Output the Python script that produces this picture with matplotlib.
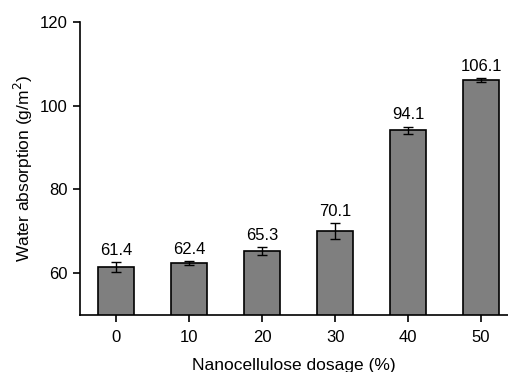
import matplotlib.pyplot as plt

plt.rcParams['font.family'] = ['Liberation Sans', 'DejaVu Sans']

# données
dosage = [0, 10, 20, 30, 40, 50]
absorption = [61.4, 62.4, 65.3, 70.1, 94.1, 106.1]
erreurs = [1.2, 0.4, 0.9, 1.9, 0.9, 0.5]
etiquettes = ["61.4", "62.4", "65.3", "70.1", "94.1", "106.1"]

fig = plt.figure(figsize=(5.08, 3.72), dpi=100)
ax = fig.add_axes([0.157, 0.153, 0.843, 0.788])

ax.bar(dosage, absorption, width=5, color="#7f7f7f", edgecolor="black", linewidth=1.2, zorder=2)
ax.errorbar(dosage, absorption, yerr=erreurs, fmt="none", ecolor="black",
            elinewidth=1.0, capsize=3.5, capthick=1.0, zorder=3)

for x, v, e, t in zip(dosage, absorption, erreurs, etiquettes):
    ax.text(x, v + e + 1.0, t, ha="center", va="bottom", fontsize=12)

ax.set_xlim(-5, 53.7)
ax.set_ylim(50, 120)
ax.set_xticks(dosage)
ax.set_yticks([60, 80, 100, 120])

for s in ["top", "right"]:
    ax.spines[s].set_visible(False)
ax.spines["left"].set_linewidth(1.2)
ax.spines["bottom"].set_linewidth(1.2)
ax.tick_params(direction="out", length=5, width=1.2, labelsize=12)
ax.tick_params(axis="x", pad=6)

ax.set_xlabel("Nanocellulose dosage (%)", fontsize=12.5, labelpad=9)
ax.set_ylabel("Water absorption (g/m$^2$)", fontsize=12.5)

fig.savefig("out.png", dpi=100)
